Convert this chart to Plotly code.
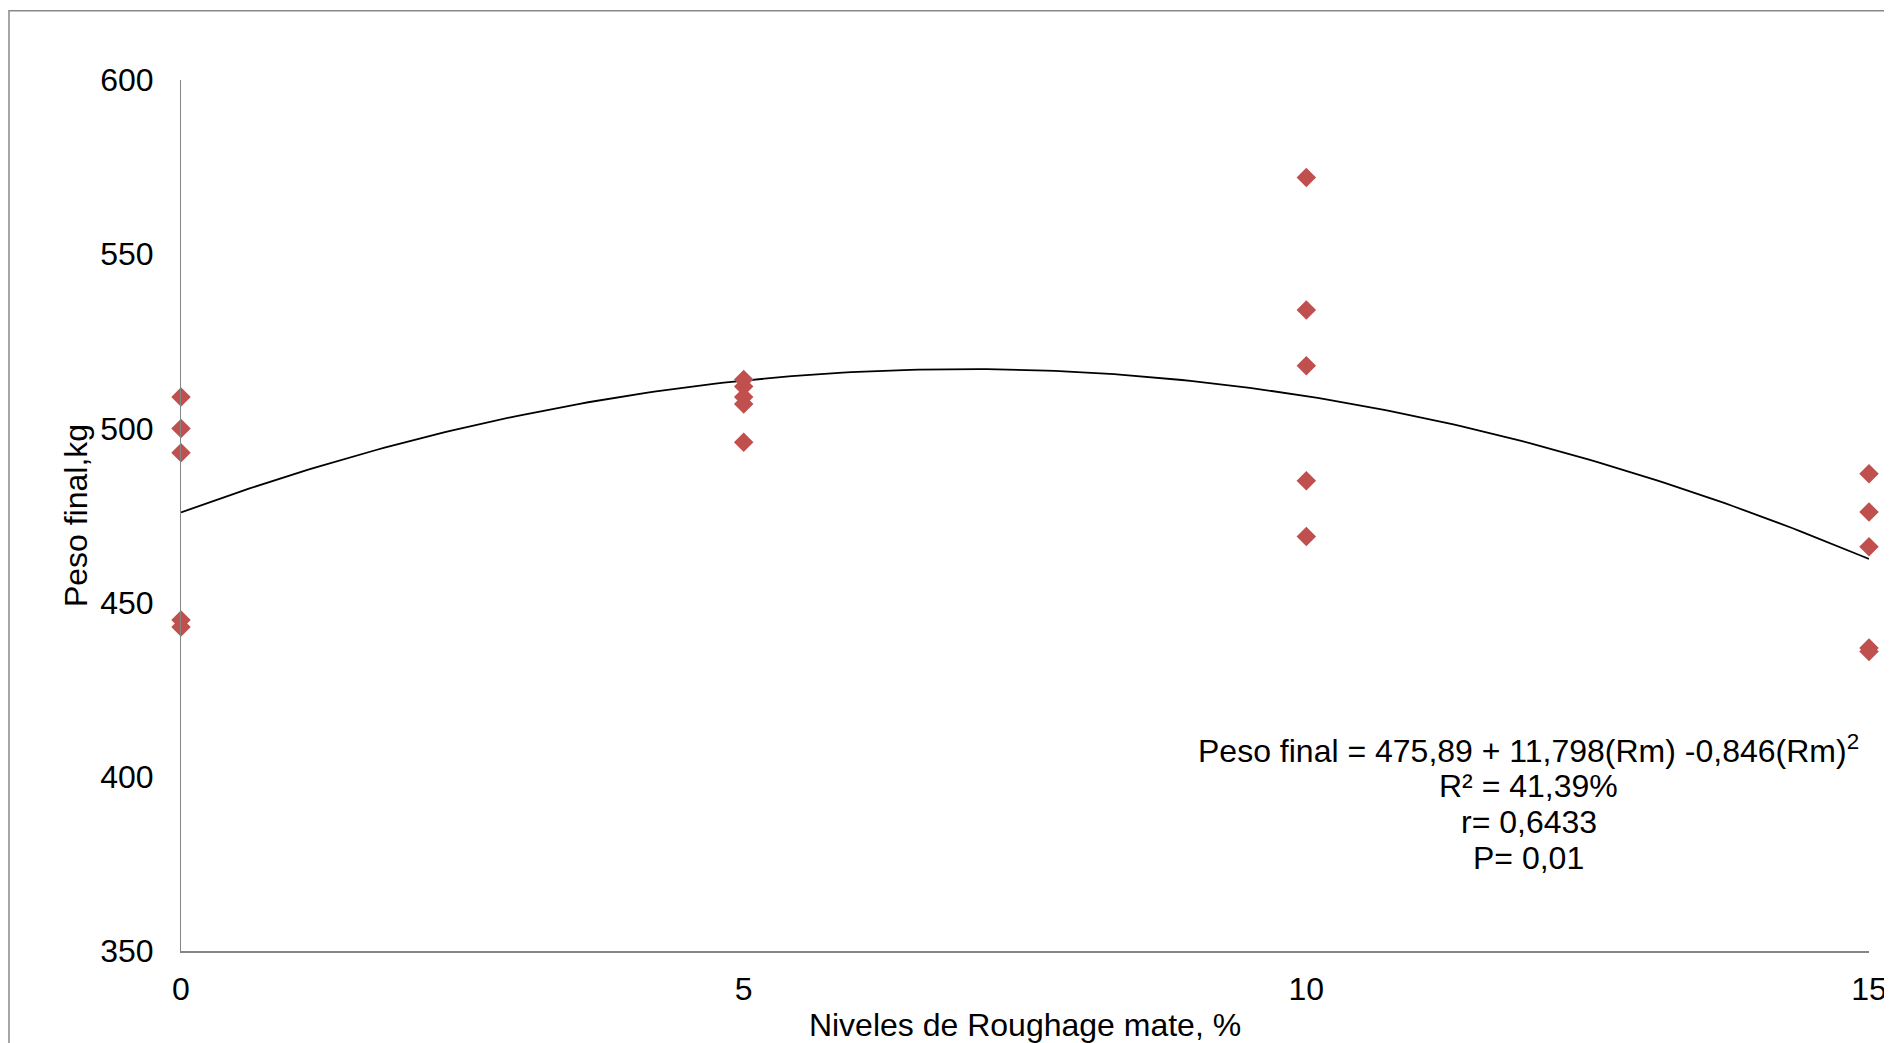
import numpy as np
import plotly.graph_objects as go

# ---- data ----
levels_0 = [0, 0, 0, 0, 0]
weights_0 = [509, 500, 493, 445, 443]
levels_5 = [5, 5, 5, 5, 5]
weights_5 = [514, 512, 509, 507, 496]
levels_10 = [10, 10, 10, 10, 10]
weights_10 = [572, 534, 518, 485, 469]
levels_15 = [15, 15, 15, 15, 15]
weights_15 = [487, 476, 466, 437, 436]

# printed regression coefficients: Peso final = a + b*Rm + c*Rm^2
coef_a = 475.89
coef_b = 11.798
coef_c = -0.846

x_ticks = [0, 5, 10, 15]
y_ticks = [350, 400, 450, 500, 550, 600]

eq_lines = [
    "Peso final = 475,89 + 11,798(Rm) -0,846(Rm)<sup>2</sup>",
    "R² = 41,39%",
    "r= 0,6433",
    "P= 0,01",
]

x_all = levels_0 + levels_5 + levels_10 + levels_15
y_all = weights_0 + weights_5 + weights_10 + weights_15

FONT = "Liberation Sans, Arial, sans-serif"
FS = 32

fig = go.Figure()

xs = np.linspace(min(x_ticks), max(x_ticks), 200)
ys = coef_a + coef_b * xs + coef_c * xs ** 2
fig.add_trace(go.Scatter(
    x=xs, y=ys, mode="lines",
    line=dict(color="#000000", width=1.8),
    showlegend=False, hoverinfo="skip", cliponaxis=False,
))

fig.add_trace(go.Scatter(
    x=x_all, y=y_all, mode="markers",
    marker=dict(symbol="diamond", size=15, color="#C0504D", line=dict(width=0)),
    showlegend=False, cliponaxis=False,
))

line_y = [0.2319, 0.1900, 0.1484, 0.1068]
for txt, yy in zip(eq_lines, line_y):
    fig.add_annotation(
        text=txt, xref="paper", yref="paper", x=0.7983, y=yy,
        xanchor="center", yanchor="middle", showarrow=False,
        font=dict(family=FONT, size=FS, color="#000000"),
    )

# outer chart frame (partially off-canvas like the reference)
fig.add_shape(
    type="rect", xref="paper", yref="paper",
    x0=-0.1019, x1=1.3, y0=-0.4, y1=1.0796,
    line=dict(color="#898989", width=1.5), fillcolor="rgba(0,0,0,0)", layer="below",
)

fig.update_layout(
    width=1884, height=1035,
    margin=dict(l=173, r=23, t=72, b=92),
    paper_bgcolor="#FFFFFF", plot_bgcolor="#FFFFFF",
    font=dict(family=FONT, size=FS, color="#000000"),
    xaxis=dict(
        range=[0, 15], tickvals=x_ticks, ticktext=[str(v) for v in x_ticks],
        showgrid=False, zeroline=False, showline=True,
        linecolor="#868686", linewidth=2, ticks="",
        ticklabelstandoff=9,
        title=dict(text="Niveles de Roughage mate, %", standoff=8,
                   font=dict(family=FONT, size=FS)),
        automargin=False,
    ),
    yaxis=dict(
        range=[350, 600], tickvals=y_ticks, ticktext=[str(v) for v in y_ticks],
        showgrid=False, zeroline=False, showline=True,
        linecolor="#868686", linewidth=1, ticks="",
        ticklabelstandoff=20,
        title=dict(text="Peso final,kg", standoff=3,
                   font=dict(family=FONT, size=FS)),
        automargin=False,
    ),
)

fig.write_html("out.html")
